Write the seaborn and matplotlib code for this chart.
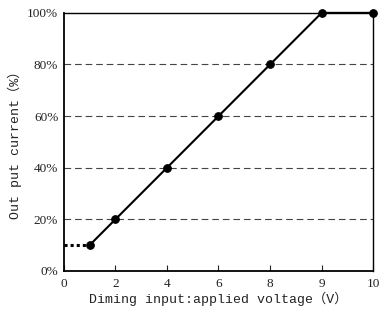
import numpy as np
import pandas as pd
import seaborn as sns
import matplotlib.pyplot as plt

# tick labels on the x axis (equally spaced, not linear)
x_ticks = [0, 2, 4, 6, 8, 9, 10]
y_ticks = [0, 20, 40, 60, 80, 100]

# dimming curve
voltage = [1, 2, 4, 6, 8, 9, 10]
current = [10, 20, 40, 60, 80, 100, 100]

# dotted lead-in segment
lead_voltage = [0, 1]
lead_current = [10, 10]


def to_pos(v):
    # map voltage onto the evenly spaced tick positions
    return np.interp(v, x_ticks, range(len(x_ticks)))


def main():
    sns.set_style("ticks")
    mono = ['Liberation Mono', 'Noto Sans CJK SC']
    serif = ['Liberation Serif', 'DejaVu Serif']

    fig = plt.figure(figsize=(3.8, 3.14), dpi=100)
    ax = fig.add_axes([0.168, 0.137, 0.814, 0.822])

    df = pd.DataFrame({"pos": to_pos(voltage), "current": current})
    lead = pd.DataFrame({"pos": to_pos(lead_voltage), "current": lead_current})

    for y in y_ticks[1:-1]:
        ax.axhline(y, color="#444444", lw=0.8, ls=(0, (6, 3.5)), zorder=1)

    sns.lineplot(data=lead, x="pos", y="current", ax=ax, color="black",
                 lw=2.2, ls=(0, (1, 1)), zorder=3)
    sns.lineplot(data=df, x="pos", y="current", ax=ax, color="black",
                 lw=1.5, marker="o", markersize=5.5, markeredgecolor="black",
                 zorder=4, clip_on=False)

    ax.set_xlim(0, len(x_ticks) - 1)
    ax.set_ylim(0, 100)
    ax.set_xticks(range(len(x_ticks)))
    ax.set_xticklabels([str(t) for t in x_ticks], family=serif, fontsize=9.5)
    ax.set_yticks(y_ticks)
    ax.set_yticklabels([f"{t}%" for t in y_ticks], family=serif, fontsize=9.5)
    ax.tick_params(axis="x", direction="in", length=4, width=0.8, pad=5, colors="#222222")
    ax.tick_params(axis="y", length=0, pad=4, colors="#222222")

    for s in ax.spines.values():
        s.set_visible(True)
        s.set_color("black")
    ax.spines["left"].set_linewidth(1.3)
    ax.spines["bottom"].set_linewidth(1.3)
    ax.spines["top"].set_linewidth(1.0)
    ax.spines["right"].set_linewidth(1.0)

    ax.set_xlabel("Diming input:applied voltage（V）", family=mono, fontsize=9.5,
                  color="#222222", labelpad=1)
    ax.set_ylabel("Out put current（%）", family=mono, fontsize=9.5,
                  color="#222222", labelpad=4)

    plt.savefig("out.png", dpi=100)


if __name__ == '__main__':
    main()
